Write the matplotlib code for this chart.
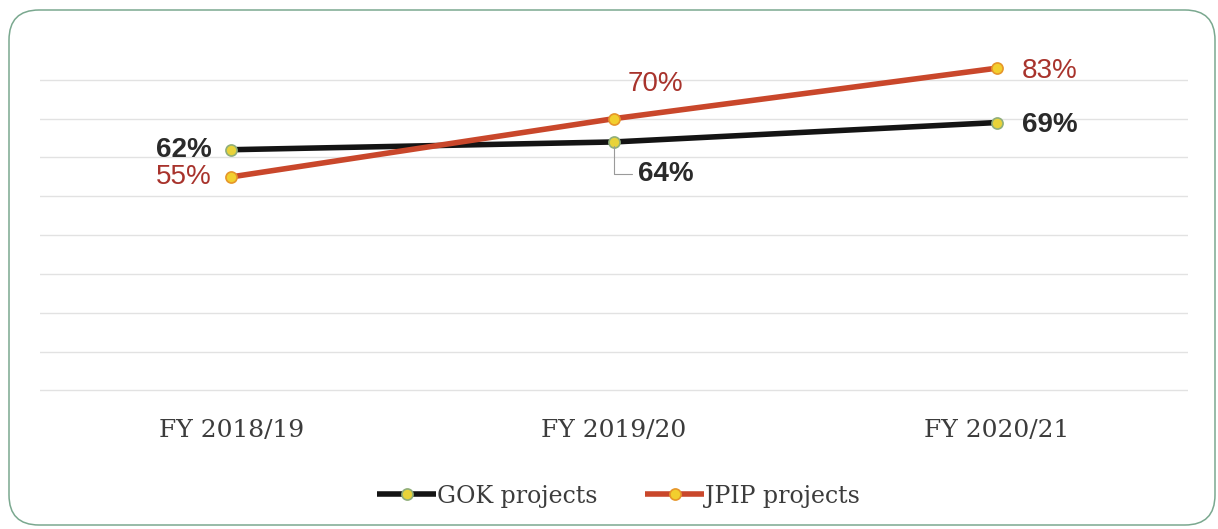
import matplotlib.pyplot as plt
from matplotlib.patches import FancyBboxPatch

years = ["FY 2018/19", "FY 2019/20", "FY 2020/21"]
gok = [62, 64, 69]
jpip = [55, 70, 83]
series_names = ["GOK projects", "JPIP projects"]

gok_color = "#141414"
jpip_color = "#c9472b"
gok_text = "#2a2a2a"
jpip_text = "#a8332c"

fig = plt.figure(figsize=(12.18, 5.29), dpi=100)

# rounded card outline drawn in pixel coordinates
bg = fig.add_axes([0, 0, 1, 1], zorder=-1)
bg.set_xlim(0, 1218)
bg.set_ylim(529, 0)
bg.axis("off")
bg.add_patch(FancyBboxPatch((9, 10), 1206, 515,
                            boxstyle="round,pad=0,rounding_size=30",
                            fc="white", ec="#7aa88f", lw=1.1))

ax = fig.add_axes([40 / 1218, 1 - 392 / 529, 1148 / 1218, (392 - 41) / 529])
ax.set_facecolor("none")
x = list(range(len(years)))

ax.plot(x, gok, color=gok_color, lw=4, solid_capstyle="butt", zorder=3,
        marker="o", ms=8, mfc="#e8d33a", mec="#8fae7a", mew=1.2, label=series_names[0])
ax.plot(x, jpip, color=jpip_color, lw=4, solid_capstyle="butt", zorder=3,
        marker="o", ms=8, mfc="#f2cf2e", mec="#e6962a", mew=1.2, label=series_names[1])

ax.set_xlim(-0.5, 2.5)
ax.set_ylim(-0.4, 90)
ax.set_yticks(range(0, 81, 10))
ax.yaxis.grid(True, color="#e2e2e2", lw=1)
ax.tick_params(left=False, bottom=False, labelleft=False)
for s in ax.spines.values():
    s.set_visible(False)
ax.set_xticks(x)
ax.set_xticklabels(years, fontsize=18, family="DejaVu Serif", color="#3c3c3c")
ax.tick_params(axis="x", pad=16)

gok_lab = dict(fontsize=20, fontweight="bold", family="Liberation Sans", va="center",
               color=gok_text)
jpip_lab = dict(fontsize=20, family="Liberation Sans", va="center", color=jpip_text)

# GOK labels
ax.annotate(f"{gok[0]}%", (x[0], gok[0]), xytext=(-14, 0), textcoords="offset points",
            ha="right", **gok_lab)
ax.annotate(f"{gok[1]}%", (x[1], gok[1]), xytext=(17, -23), textcoords="offset points",
            ha="left",
            arrowprops=dict(arrowstyle="-", color="#9a9a9a", lw=0.8, shrinkA=2, shrinkB=3,
                            connectionstyle="angle,angleA=0,angleB=90,rad=0"), **gok_lab)
ax.annotate(f"{gok[2]}%", (x[2], gok[2]), xytext=(18, -2), textcoords="offset points",
            ha="left", **gok_lab)
# JPIP labels
ax.annotate(f"{jpip[0]}%", (x[0], jpip[0]), xytext=(-14, 0), textcoords="offset points",
            ha="right", **jpip_lab)
ax.annotate(f"{jpip[1]}%", (x[1], jpip[1]), xytext=(30, 25), textcoords="offset points",
            ha="center", **jpip_lab)
ax.annotate(f"{jpip[2]}%", (x[2], jpip[2]), xytext=(18, -2), textcoords="offset points",
            ha="left", **jpip_lab)

fig.legend(loc="center", bbox_to_anchor=(0.508, 1 - 496 / 529), ncol=2, frameon=False,
           prop={"family": "DejaVu Serif", "size": 17}, handlelength=2.5,
           handletextpad=0.05, columnspacing=2.0, labelcolor="#3c3c3c")

fig.savefig("out.png", dpi=100)
